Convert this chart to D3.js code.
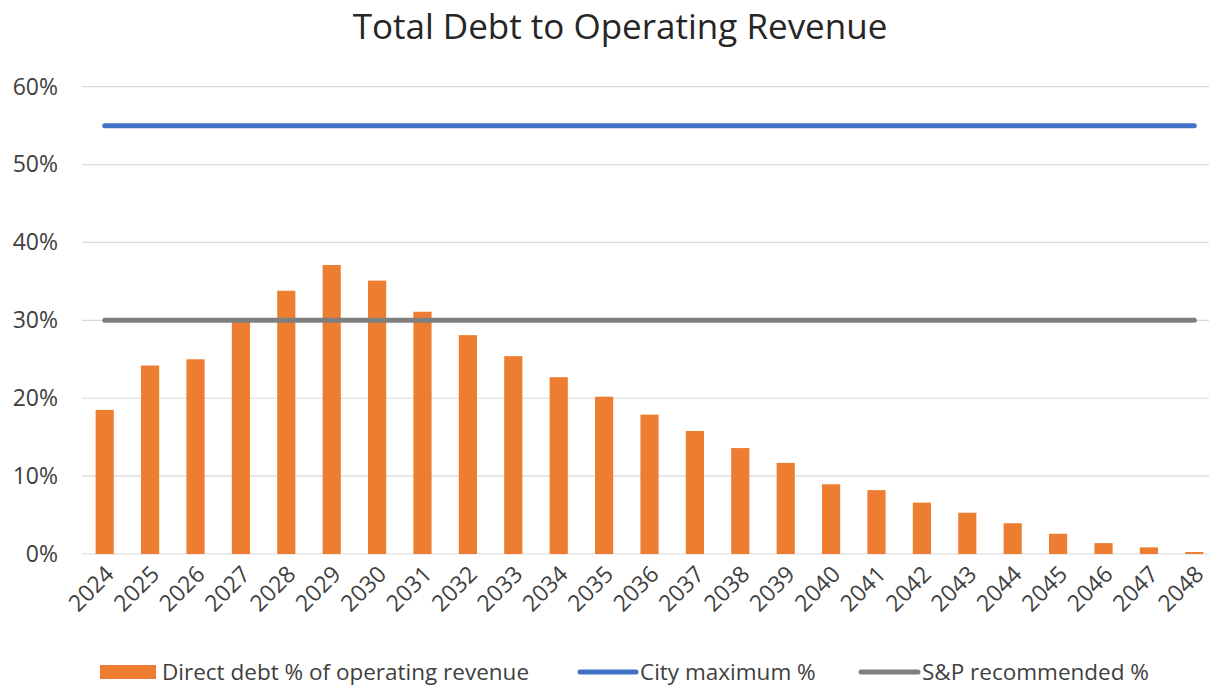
<!DOCTYPE html>
<html>
<head>
<meta charset="utf-8">
<script src="https://cdnjs.cloudflare.com/ajax/libs/d3/7.8.5/d3.min.js"></script>
<style>
  body { margin: 0; background: #fff; }
  text { font-family: "Open Sans", sans-serif; fill: #262626; }
</style>
</head>
<body>
<script>
  // chart data
  const years = ["2024","2025","2026","2027","2028","2029","2030","2031","2032","2033","2034","2035",
    "2036","2037","2038","2039","2040","2041","2042","2043","2044","2045","2046","2047","2048"];
  const directDebt = [18.5, 24.2, 25.0, 30.2, 33.8, 37.1, 35.1, 31.1, 28.1, 25.4, 22.7, 20.2,
    17.9, 15.8, 13.6, 11.7, 8.95, 8.2, 6.6, 5.3, 3.95, 2.6, 1.4, 0.85, 0.25];
  const cityMax = years.map(() => 55);
  const spRecommended = years.map(() => 30);
  const yTicks = [0, 10, 20, 30, 40, 50, 60];
  const seriesNames = ["Direct debt % of operating revenue", "City maximum %", "S&P recommended %"];

  const w = 1209, h = 688;
  const plotLeft = 82, plotRight = 1217, plotTop = 86.7, plotBottom = 554;

  const svg = d3.select("body").append("svg")
    .attr("width", w)
    .attr("height", h);

  const xScale = d3.scaleBand()
    .domain(years)
    .range([plotLeft, plotRight])
    .paddingInner(0.6)
    .paddingOuter(0.3);

  const yScale = d3.scaleLinear()
    .domain([0, 60])
    .range([plotBottom, plotTop]);

  // title
  svg.append("text")
    .attr("x", 620)
    .attr("y", 39)
    .attr("text-anchor", "middle")
    .style("font-size", "35px")
    .text("Total Debt to Operating Revenue");

  // gridlines
  svg.append("g")
    .selectAll("line")
    .data(yTicks)
    .enter()
    .append("line")
    .attr("x1", plotLeft)
    .attr("x2", plotRight)
    .attr("y1", d => yScale(d))
    .attr("y2", d => yScale(d))
    .attr("stroke", "#d9d9d9")
    .attr("stroke-width", 1.2);

  // y axis labels
  const yAxis = d3.axisLeft(yScale)
    .tickValues(yTicks)
    .tickFormat(d => d + "%")
    .tickSize(0)
    .tickPadding(24);
  const gy = svg.append("g")
    .attr("transform", "translate(" + plotLeft + ",0)")
    .call(yAxis);
  gy.select(".domain").remove();
  gy.selectAll("text")
    .style("font-size", "23px")
    .style("font-family", "'Open Sans', sans-serif")
    .style("fill", "#404040");

  // bars
  svg.append("g")
    .selectAll("rect")
    .data(directDebt)
    .enter()
    .append("rect")
    .attr("x", (d, i) => xScale(years[i]))
    .attr("y", d => yScale(d))
    .attr("width", xScale.bandwidth())
    .attr("height", d => yScale(0) - yScale(d))
    .attr("fill", "#ed7d31");

  // x labels
  const cx = y => xScale(y) + xScale.bandwidth() / 2;
  svg.append("g")
    .selectAll("text")
    .data(years)
    .enter()
    .append("text")
    .attr("text-anchor", "end")
    .attr("transform", d => "translate(" + (cx(d) + 5) + ",570) rotate(-45)")
    .attr("dy", "0.35em")
    .style("font-size", "23px")
    .style("fill", "#404040")
    .text(d => d);

  // lines
  const line = d3.line()
    .x((d, i) => cx(years[i]))
    .y(d => yScale(d));

  svg.append("path")
    .datum(cityMax)
    .attr("d", line)
    .attr("fill", "none")
    .attr("stroke", "#4472c4")
    .attr("stroke-width", 5)
    .attr("stroke-linecap", "round");

  svg.append("path")
    .datum(spRecommended)
    .attr("d", line)
    .attr("fill", "none")
    .attr("stroke", "#7f7f7f")
    .attr("stroke-width", 5)
    .attr("stroke-linecap", "round");

  // legend
  const legY = 672;
  const leg = svg.append("g");
  leg.append("rect")
    .attr("x", 100).attr("y", legY - 7)
    .attr("width", 56).attr("height", 14)
    .attr("fill", "#ed7d31");
  leg.append("text")
    .attr("x", 162).attr("y", legY).attr("dy", "0.35em")
    .style("font-size", "22.5px").style("fill", "#404040")
    .text(seriesNames[0]);

  leg.append("line")
    .attr("x1", 580).attr("x2", 636)
    .attr("y1", legY).attr("y2", legY)
    .attr("stroke", "#4472c4").attr("stroke-width", 5)
    .attr("stroke-linecap", "round");
  leg.append("text")
    .attr("x", 640).attr("y", legY).attr("dy", "0.35em")
    .style("font-size", "22.5px").style("fill", "#404040")
    .text(seriesNames[1]);

  leg.append("line")
    .attr("x1", 861).attr("x2", 918)
    .attr("y1", legY).attr("y2", legY)
    .attr("stroke", "#7f7f7f").attr("stroke-width", 5)
    .attr("stroke-linecap", "round");
  leg.append("text")
    .attr("x", 922).attr("y", legY).attr("dy", "0.35em")
    .style("font-size", "22.5px").style("fill", "#404040")
    .text(seriesNames[2]);
</script>
</body>
</html>
